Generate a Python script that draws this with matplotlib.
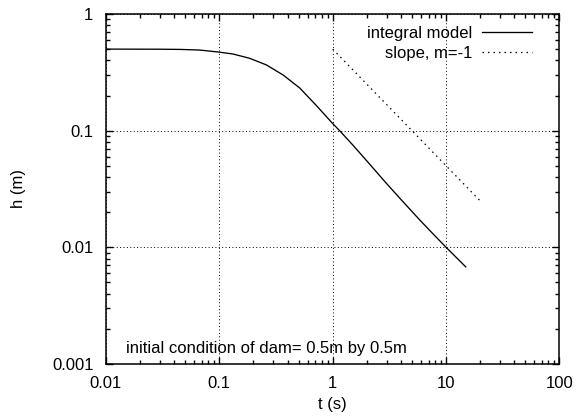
import matplotlib
matplotlib.use("Agg")
import matplotlib.pyplot as plt
from matplotlib.ticker import FuncFormatter, LogLocator, NullFormatter

plt.rcParams['font.family'] = ['Liberation Sans', 'DejaVu Sans']
plt.rcParams['font.size'] = 12

# integral model: flow depth h (m) versus time t (s)
t_model = [0.01, 0.03, 0.045, 0.067, 0.1, 0.132, 0.185, 0.26, 0.365, 0.512,
           0.718, 1.0, 1.15, 1.5, 2.0, 2.97, 4.0, 5.84, 8.0, 10.0, 14.9]
h_model = [0.5, 0.499, 0.497, 0.491, 0.471, 0.454, 0.417, 0.366, 0.30, 0.232,
           0.164, 0.115, 0.1, 0.0755, 0.055, 0.0354, 0.0257, 0.0172, 0.0125, 0.01, 0.0068]

# reference line of slope m = -1
t_slope = [1.0, 20.0]
h_slope = [0.5, 0.025]

x_ticks = [0.01, 0.1, 1, 10, 100]
y_ticks = [0.001, 0.01, 0.1, 1]

fig = plt.figure(figsize=(5.76, 4.19), dpi=100)
ax = fig.add_axes([0.184, 0.1313, 0.7873, 0.8353])

ax.plot(t_model, h_model, color='black', lw=0.95, label='integral model')
ax.plot(t_slope, h_slope, color='black', lw=0.9, linestyle=(0, (1.2, 3.2)),
        label='slope, m=-1')

ax.set_xscale('log')
ax.set_yscale('log')
ax.set_xlim(0.01, 100)
ax.set_ylim(0.001, 1)
ax.set_xticks(x_ticks)
ax.set_yticks(y_ticks)
fmt = FuncFormatter(lambda v, p: '%g' % v)
ax.xaxis.set_major_formatter(fmt)
ax.yaxis.set_major_formatter(fmt)
ax.xaxis.set_minor_locator(LogLocator(base=10, subs=range(2, 10), numticks=20))
ax.yaxis.set_minor_locator(LogLocator(base=10, subs=range(2, 10), numticks=20))
ax.xaxis.set_minor_formatter(NullFormatter())
ax.yaxis.set_minor_formatter(NullFormatter())

ax.tick_params(which='both', direction='in', top=True, right=True, width=1.0)
ax.tick_params(which='major', length=5, pad=9)
ax.tick_params(which='minor', length=2.8)
for s in ax.spines.values():
    s.set_linewidth(1.1)

ax.grid(True, which='major', color='black', linestyle=(0, (1, 2.5)), lw=0.7)

ax.set_xlabel('t (s)')
ax.set_ylabel('h (m)')
ax.xaxis.set_label_coords(0.5, -0.094)
ax.yaxis.set_label_coords(-0.176, 0.5)

ax.legend(loc='upper right', bbox_to_anchor=(0.939, 0.966), frameon=False,
          markerfirst=False, handlelength=3.0, handletextpad=0.55,
          borderaxespad=0, borderpad=0, labelspacing=0.32)

ax.text(0.044, 0.043, 'initial condition of dam= 0.5m by 0.5m',
        transform=ax.transAxes, ha='left', va='center')

fig.savefig('out.png', dpi=100)
